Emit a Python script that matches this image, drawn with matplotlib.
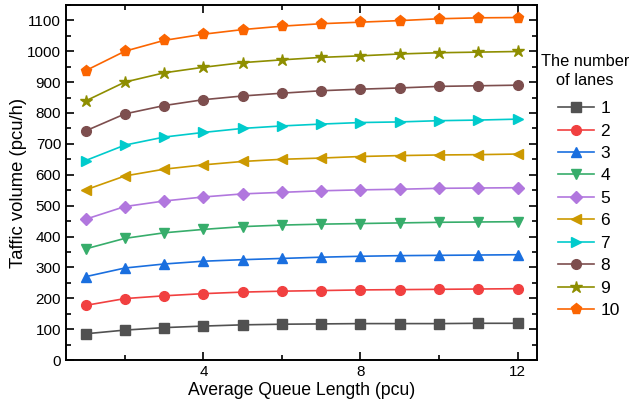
import numpy as np
import matplotlib.pyplot as plt
from matplotlib.ticker import MultipleLocator

plt.rcParams['font.family'] = ['Liberation Sans', 'DejaVu Sans']

# Data
queue_len = np.arange(1, 13)
lanes = ['1', '2', '3', '4', '5', '6', '7', '8', '9', '10']
volume = [
    [85, 97, 105, 110, 114, 116, 117, 118, 118, 118, 119, 119],
    [177, 199, 208, 215, 220, 223, 225, 227, 228, 229, 230, 231],
    [270, 298, 311, 320, 325, 329, 333, 336, 338, 339, 340, 341],
    [360, 394, 412, 423, 432, 437, 440, 442, 444, 446, 447, 448],
    [456, 497, 515, 528, 538, 543, 548, 551, 553, 556, 557, 558],
    [551, 596, 618, 632, 643, 650, 654, 659, 662, 664, 665, 667],
    [646, 696, 722, 737, 750, 758, 764, 769, 771, 775, 777, 780],
    [742, 797, 824, 843, 855, 864, 872, 877, 881, 886, 888, 890],
    [839, 900, 930, 948, 963, 972, 980, 985, 991, 995, 997, 999],
    [937, 1000, 1035, 1055, 1070, 1081, 1089, 1094, 1099, 1105, 1108, 1109],
]

colors = ['#515151', '#F14040', '#1A6FDF', '#37AD6B', '#B177DE',
          '#CC9900', '#00CBCC', '#7D4E4E', '#8E8E00', '#FB6501']
markers = ['s', 'o', '^', 'v', 'D', '<', '>', 'o', '*', 'p']
sizes = [6.5, 7, 7.5, 7.5, 6.5, 7.5, 7.5, 7, 9, 8]

fig = plt.figure(figsize=(6.29, 4.05), dpi=100)
ax = fig.add_axes([0.105, 0.111, 0.749, 0.877])

for i in range(len(lanes)):
    ax.plot(queue_len, volume[i], color=colors[i], marker=markers[i],
            markersize=sizes[i], linewidth=1.2, label=lanes[i])

ax.set_xlim(0.5, 12.5)
ax.set_ylim(0, 1150)
ax.xaxis.set_major_locator(MultipleLocator(4))
ax.xaxis.set_minor_locator(MultipleLocator(2))
ax.yaxis.set_major_locator(MultipleLocator(100))
ax.yaxis.set_minor_locator(MultipleLocator(50))
ax.tick_params(which='both', direction='in', top=True, right=True,
               labelsize=11, width=1.2)
ax.tick_params(which='major', length=6)
ax.tick_params(which='minor', length=3.5)
for sp in ax.spines.values():
    sp.set_linewidth(1.4)

ax.set_xlabel('Average Queue Length (pcu)', fontsize=12.7, labelpad=2)
ax.set_ylabel('Taffic volume (pcu/h)', fontsize=13.3, labelpad=0)

# legend title placed by hand so the entries sit where the reference has them
fig.text(585 / 629, 1 - 71 / 405, 'The number\nof lanes', fontsize=11.8,
         ha='center', va='center', linespacing=1.35)
leg = ax.legend(loc='upper left', bbox_to_anchor=(558 / 629, 1 - 101 / 405),
                bbox_transform=fig.transFigure, frameon=False, fontsize=12.5,
                handlelength=2.1, labelspacing=0.42, handletextpad=0.35,
                borderaxespad=0.0, borderpad=0.0)

fig.savefig('out.png', dpi=100)
